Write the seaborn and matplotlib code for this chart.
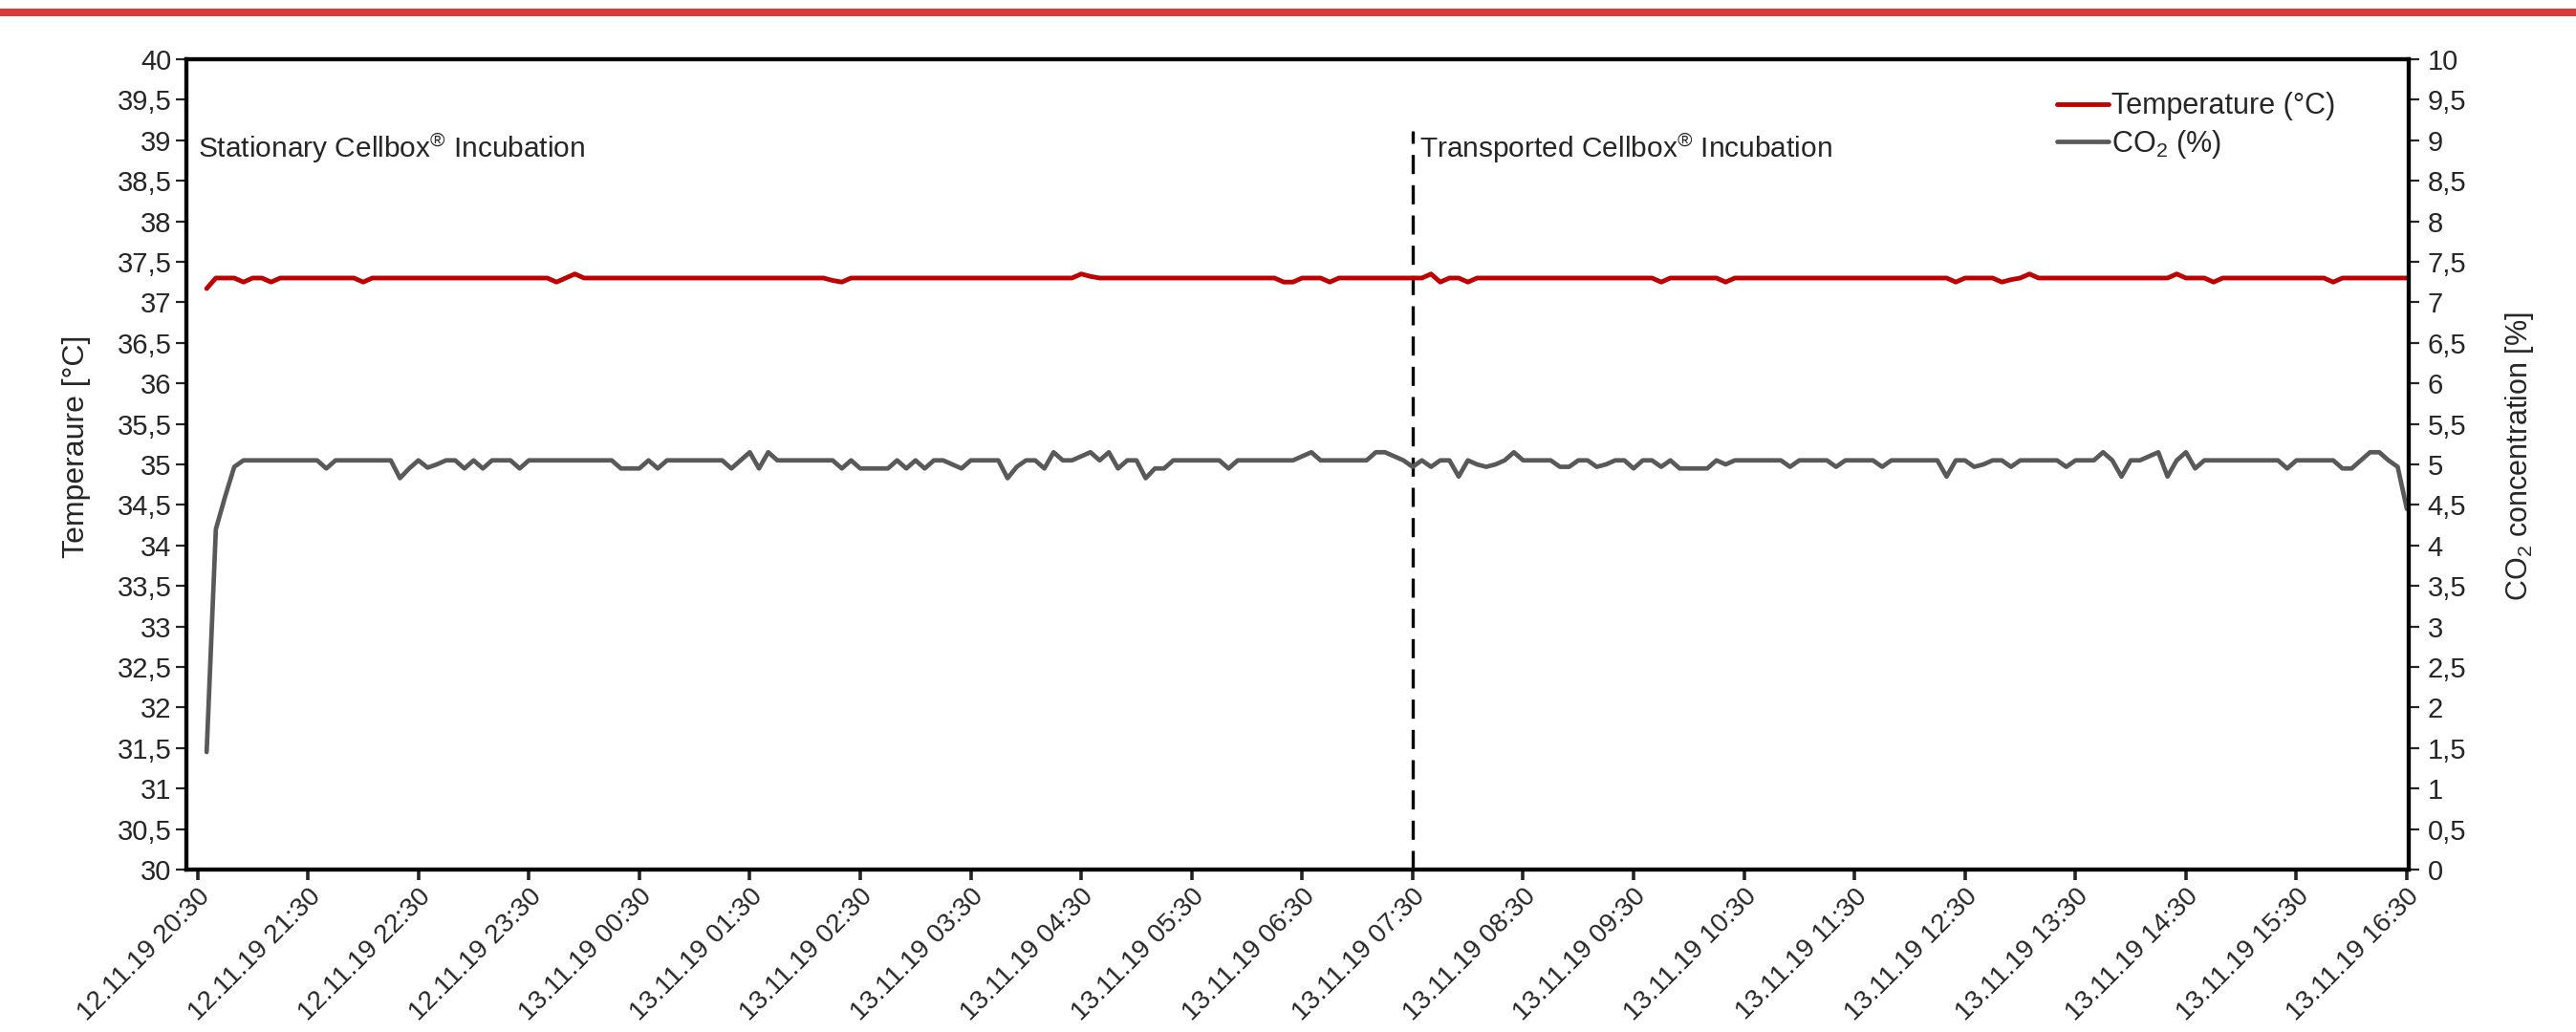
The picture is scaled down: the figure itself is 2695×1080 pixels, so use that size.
import matplotlib
matplotlib.use("Agg")
import matplotlib.pyplot as plt
import matplotlib.dates as mdates
import matplotlib.ticker as mticker
from matplotlib.lines import Line2D
from matplotlib.patches import Rectangle
import pandas as pd
import seaborn as sns

# logger readings, one every 5 minutes (one row = one hour)
start_time = "2019-11-12 20:35"
sample_freq = "5min"

temperature = [
    37.17, 37.3, 37.3, 37.3, 37.25, 37.3, 37.3, 37.25, 37.3, 37.3, 37.3, 37.3,
    37.3, 37.3, 37.3, 37.3, 37.3, 37.25, 37.3, 37.3, 37.3, 37.3, 37.3, 37.3,
    37.3, 37.3, 37.3, 37.3, 37.3, 37.3, 37.3, 37.3, 37.3, 37.3, 37.3, 37.3,
    37.3, 37.3, 37.25, 37.3, 37.35, 37.3, 37.3, 37.3, 37.3, 37.3, 37.3, 37.3,
    37.3, 37.3, 37.3, 37.3, 37.3, 37.3, 37.3, 37.3, 37.3, 37.3, 37.3, 37.3,
    37.3, 37.3, 37.3, 37.3, 37.3, 37.3, 37.3, 37.3, 37.27, 37.25, 37.3, 37.3,
    37.3, 37.3, 37.3, 37.3, 37.3, 37.3, 37.3, 37.3, 37.3, 37.3, 37.3, 37.3,
    37.3, 37.3, 37.3, 37.3, 37.3, 37.3, 37.3, 37.3, 37.3, 37.3, 37.3, 37.35,
    37.32, 37.3, 37.3, 37.3, 37.3, 37.3, 37.3, 37.3, 37.3, 37.3, 37.3, 37.3,
    37.3, 37.3, 37.3, 37.3, 37.3, 37.3, 37.3, 37.3, 37.3, 37.25, 37.25, 37.3,
    37.3, 37.3, 37.25, 37.3, 37.3, 37.3, 37.3, 37.3, 37.3, 37.3, 37.3, 37.3,
    37.3, 37.35, 37.25, 37.3, 37.3, 37.25, 37.3, 37.3, 37.3, 37.3, 37.3, 37.3,
    37.3, 37.3, 37.3, 37.3, 37.3, 37.3, 37.3, 37.3, 37.3, 37.3, 37.3, 37.3,
    37.3, 37.3, 37.25, 37.3, 37.3, 37.3, 37.3, 37.3, 37.3, 37.25, 37.3, 37.3,
    37.3, 37.3, 37.3, 37.3, 37.3, 37.3, 37.3, 37.3, 37.3, 37.3, 37.3, 37.3,
    37.3, 37.3, 37.3, 37.3, 37.3, 37.3, 37.3, 37.3, 37.3, 37.3, 37.25, 37.3,
    37.3, 37.3, 37.3, 37.25, 37.28, 37.3, 37.35, 37.3, 37.3, 37.3, 37.3, 37.3,
    37.3, 37.3, 37.3, 37.3, 37.3, 37.3, 37.3, 37.3, 37.3, 37.3, 37.35, 37.3,
    37.3, 37.3, 37.25, 37.3, 37.3, 37.3, 37.3, 37.3, 37.3, 37.3, 37.3, 37.3,
    37.3, 37.3, 37.3, 37.25, 37.3, 37.3, 37.3, 37.3, 37.3, 37.3, 37.3, 37.3,
]

co2 = [
    1.45, 4.2, 4.6, 4.97, 5.05, 5.05, 5.05, 5.05, 5.05, 5.05, 5.05, 5.05,
    5.05, 4.95, 5.05, 5.05, 5.05, 5.05, 5.05, 5.05, 5.05, 4.83, 4.95, 5.05,
    4.96, 5.0, 5.05, 5.05, 4.95, 5.05, 4.95, 5.05, 5.05, 5.05, 4.95, 5.05,
    5.05, 5.05, 5.05, 5.05, 5.05, 5.05, 5.05, 5.05, 5.05, 4.95, 4.95, 4.95,
    5.05, 4.95, 5.05, 5.05, 5.05, 5.05, 5.05, 5.05, 5.05, 4.95, 5.05, 5.15,
    4.95, 5.15, 5.05, 5.05, 5.05, 5.05, 5.05, 5.05, 5.05, 4.95, 5.05, 4.95,
    4.95, 4.95, 4.95, 5.05, 4.95, 5.05, 4.95, 5.05, 5.05, 5.0, 4.95, 5.05,
    5.05, 5.05, 5.05, 4.83, 4.97, 5.05, 5.05, 4.95, 5.15, 5.05, 5.05, 5.1,
    5.15, 5.05, 5.15, 4.95, 5.05, 5.05, 4.83, 4.95, 4.95, 5.05, 5.05, 5.05,
    5.05, 5.05, 5.05, 4.95, 5.05, 5.05, 5.05, 5.05, 5.05, 5.05, 5.05, 5.1,
    5.15, 5.05, 5.05, 5.05, 5.05, 5.05, 5.05, 5.15, 5.15, 5.1, 5.05, 4.97,
    5.05, 4.97, 5.05, 5.05, 4.85, 5.05, 5.0, 4.97, 5.0, 5.05, 5.15, 5.05,
    5.05, 5.05, 5.05, 4.97, 4.97, 5.05, 5.05, 4.97, 5.0, 5.05, 5.05, 4.95,
    5.05, 5.05, 4.97, 5.05, 4.95, 4.95, 4.95, 4.95, 5.05, 5.0, 5.05, 5.05,
    5.05, 5.05, 5.05, 5.05, 4.97, 5.05, 5.05, 5.05, 5.05, 4.97, 5.05, 5.05,
    5.05, 5.05, 4.97, 5.05, 5.05, 5.05, 5.05, 5.05, 5.05, 4.85, 5.05, 5.05,
    4.97, 5.0, 5.05, 5.05, 4.97, 5.05, 5.05, 5.05, 5.05, 5.05, 4.97, 5.05,
    5.05, 5.05, 5.15, 5.05, 4.85, 5.05, 5.05, 5.1, 5.15, 4.85, 5.05, 5.15,
    4.95, 5.05, 5.05, 5.05, 5.05, 5.05, 5.05, 5.05, 5.05, 5.05, 4.95, 5.05,
    5.05, 5.05, 5.05, 5.05, 4.95, 4.95, 5.05, 5.15, 5.15, 5.05, 4.97, 4.45,
]

switch_time = "2019-11-13 07:30"
tick_start = "2019-11-12 20:30"
tick_end = "2019-11-13 16:30"
x_min, x_max = "2019-11-12 20:24", "2019-11-13 16:31"

phase_labels = ["Stationary Cellbox$^{®}$ Incubation", "Transported Cellbox$^{®}$ Incubation"]
legend_labels = ["Temperature (°C)", "CO$_2$ (%)"]

RED = "#c00000"
GREY = "#595959"

df = pd.DataFrame({
    "time": pd.date_range(start_time, periods=len(temperature), freq=sample_freq),
    "temperature": temperature,
    "co2": co2,
})

sns.set_theme(style="white")
plt.rcParams["font.family"] = ["Liberation Sans", "DejaVu Sans"]
plt.rcParams["mathtext.fontset"] = "custom"
plt.rcParams["mathtext.rm"] = "Liberation Sans"
plt.rcParams["mathtext.it"] = "Liberation Sans:italic"
plt.rcParams["mathtext.bf"] = "Liberation Sans:bold"
plt.rcParams["mathtext.default"] = "regular"

fig = plt.figure(figsize=(26.95, 10.8), dpi=100)
ax = fig.add_axes([195 / 2695, 1 - 910 / 1080, 2325 / 2695, 848 / 1080])
ax2 = ax.twinx()

# red header band
fig.add_artist(Rectangle((0, 1 - 17 / 1080), 1, 8 / 1080, transform=fig.transFigure,
                         color="#dc3a3a", lw=0))

sns.lineplot(data=df, x="time", y="temperature", ax=ax, color=RED, lw=3.5)
sns.lineplot(data=df, x="time", y="co2", ax=ax2, color=GREY, lw=3.4)

ax.set_ylim(30, 40)
ax2.set_ylim(0, 10)
ax.set_xlim(pd.Timestamp(x_min), pd.Timestamp(x_max))

comma = mticker.FuncFormatter(lambda v, p: f"{v:g}".replace(".", ","))
ax.yaxis.set_major_locator(mticker.MultipleLocator(0.5))
ax2.yaxis.set_major_locator(mticker.MultipleLocator(0.5))
ax.yaxis.set_major_formatter(comma)
ax2.yaxis.set_major_formatter(comma)

ticks = pd.date_range(tick_start, tick_end, freq="1h")
ax.set_xticks(mdates.date2num(ticks))
ax.xaxis.set_major_formatter(mdates.DateFormatter("%d.%m.%y %H:%M"))
for lab in ax.get_xticklabels():
    lab.set_rotation(45)
    lab.set_ha("right")
    lab.set_rotation_mode("anchor")

ax.tick_params(axis="y", direction="out", length=8, width=1.6, labelsize=21, pad=3, left=True)
ax.tick_params(axis="x", direction="out", length=8, width=2.6, labelsize=20, pad=3, bottom=True)
ax2.tick_params(axis="y", direction="out", length=8, width=1.6, labelsize=21, pad=6, right=True)

ax.set_xlabel("")
ax.set_ylabel("Temperaure [°C]", fontsize=23, labelpad=20)
ax2.set_ylabel("CO$_2$ concentration [%]", fontsize=22, labelpad=28)
ax.yaxis.label.set_y(0.522)
ax2.yaxis.label.set_y(0.51)

for a in (ax, ax2):
    for s in a.spines.values():
        s.set_color("black")
        s.set_linewidth(3.0)
        s.set_visible(True)

# phase divider and labels
switch = mdates.date2num(pd.Timestamp(switch_time))
ax.plot([switch, switch], [30, 39.12], color="black", lw=2.4, dashes=(6, 3.5), zorder=1)
ax.text(0.005, 38.9, phase_labels[0], transform=ax.get_yaxis_transform(),
        fontsize=21.5, va="center", ha="left")
ax.annotate(phase_labels[1], xy=(switch, 38.9), xytext=(5, 0), textcoords="offset points",
            fontsize=21.5, va="center", ha="left")

handles = [Line2D([], [], color=RED, lw=3.5), Line2D([], [], color=GREY, lw=3.4)]
fig.legend(handles, legend_labels, loc="upper left",
           bbox_to_anchor=(2140 / 2695, 1 - 84 / 1080), frameon=False, fontsize=22,
           handlelength=1.75, handletextpad=0.1, labelspacing=0.25, borderaxespad=0)

fig.savefig("out.png", dpi=100)
